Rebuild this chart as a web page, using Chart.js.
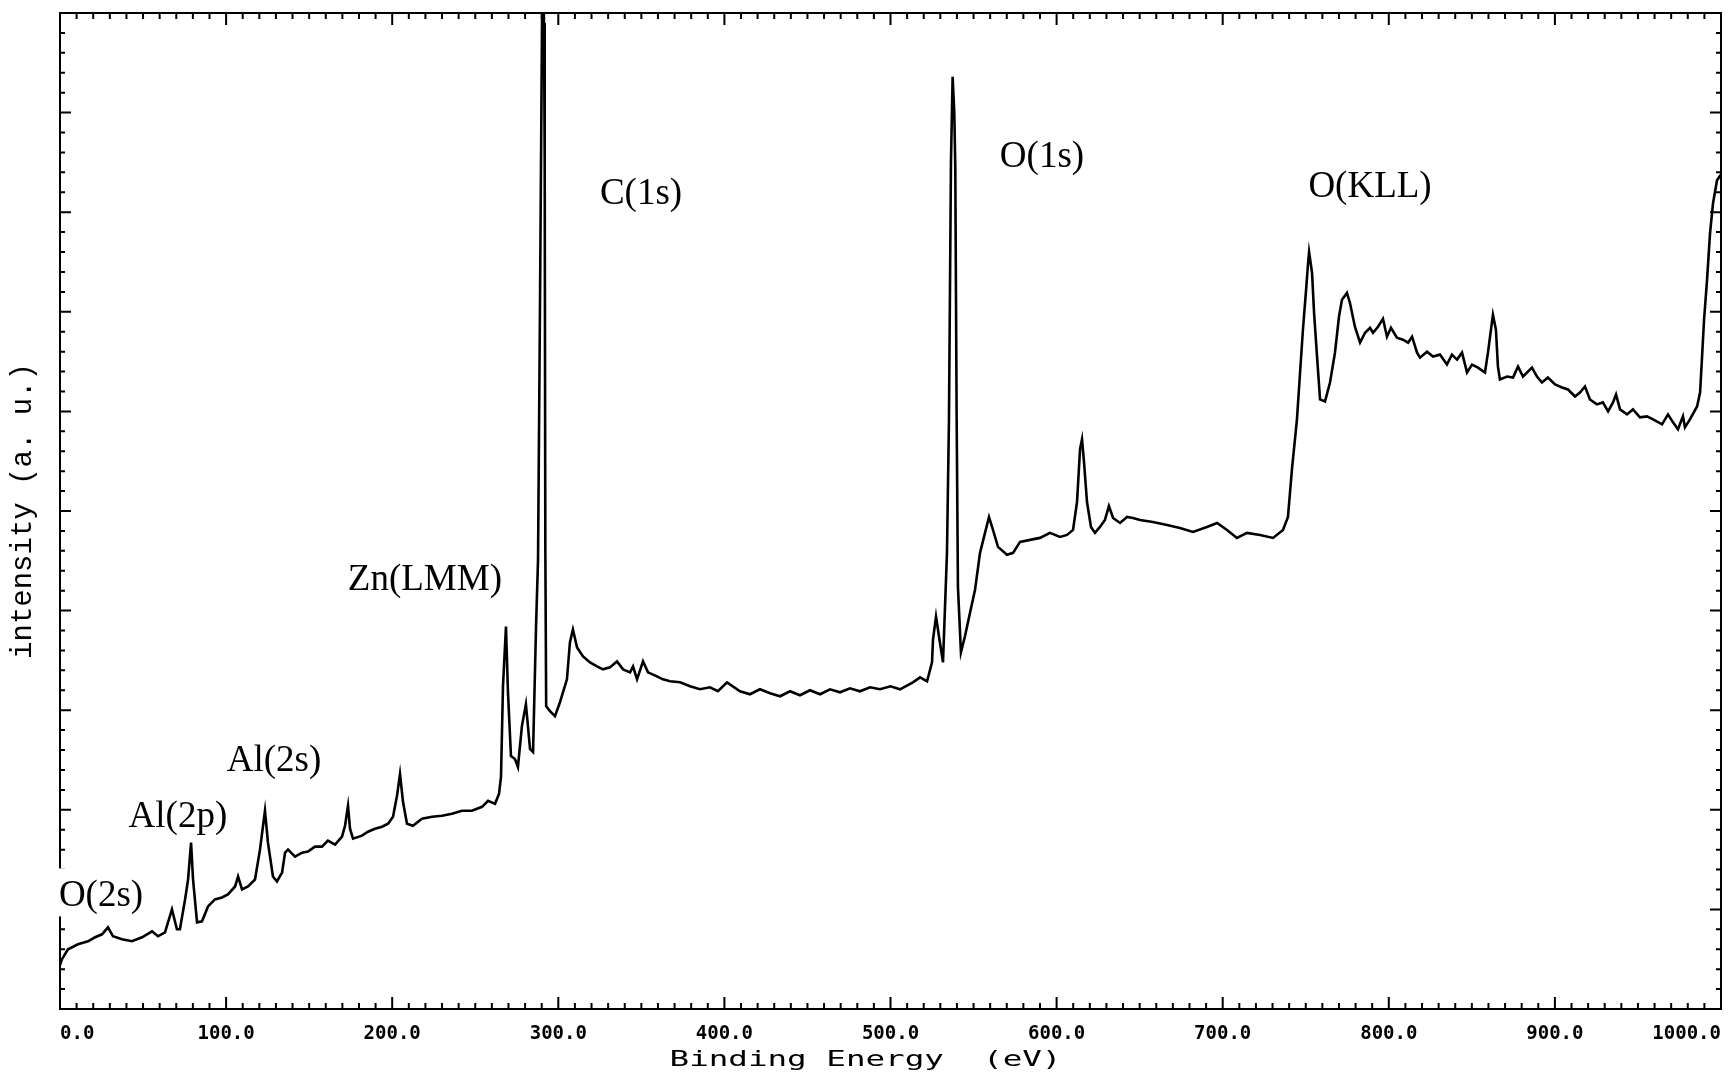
<!DOCTYPE html>
<html>
<head>
<meta charset="utf-8">
<script src="https://cdn.jsdelivr.net/npm/chart.js@4.4.1/dist/chart.umd.min.js"></script>
<style>
  html, body { margin: 0; padding: 0; background: #fff; }
  #wrap { width: 1733px; height: 1074px; }
</style>
</head>
<body>
<div id="wrap"><canvas id="xps"></canvas></div>
<script>
// XPS survey spectrum: binding energy (eV) and intensity (a. u.)
const energy = [
  0, 1.2, 4.8, 10.8, 16.9, 21.1, 25.3, 28.9, 31.9, 37.3, 43.3, 49.4, 55.4, 59.0, 63.2, 67.4, 70.4, 72.2,
  75.3, 77.1, 78.9, 80.1, 82.5, 85.5, 89.1, 93.3, 97.5, 101.1, 105.4, 107.2, 109.6, 113.2, 117.4, 120.4,
  123.4, 125.2, 128.2, 130.6, 133.7, 135.5, 137.3, 141.5, 145.7, 149.3, 153.5, 157.7, 161.3, 165.6, 169.8,
  171.6, 173.4, 174.6, 176.4, 181.8, 185.4, 189.6, 193.9, 197.5, 200.5, 202.9, 204.7, 206.5, 208.9, 212.5,
  217.9, 224.0, 230.0, 236.0, 242.0, 248.0, 254.1, 257.7, 261.9, 264.3, 265.5, 266.7, 268.5, 269.7, 271.5,
  273.9, 275.7, 278.1, 280.5, 283.0, 284.8, 286.6, 287.8, 289.0, 290.2, 290.8, 291.4, 291.8, 292.2, 292.7,
  295.0, 298.0, 301.0, 305.2, 307.0, 308.8, 311.3, 314.9, 319.1, 323.3, 326.9, 331.1, 335.3, 339.0, 343.2,
  345.0, 347.4, 351.0, 354.0, 359.4, 363.0, 367.3, 373.3, 379.3, 385.3, 391.3, 396.1, 401.6, 409.4, 415.4,
  421.4, 427.5, 433.5, 439.5, 445.5, 451.5, 457.6, 463.6, 469.6, 475.6, 481.6, 487.7, 493.7, 500.0, 505.7,
  513.5, 517.8, 522.0, 525.0, 525.6, 527.4, 529.2, 531.6, 534.0, 535.2, 536.4, 537.4, 538.4, 539.0, 539.8,
  540.6, 542.4, 544.8, 547.9, 550.9, 553.9, 556.9, 559.3, 561.7, 564.7, 570.1, 573.8, 578.0, 584.0, 590.0,
  596.0, 602.0, 606.3, 609.9, 612.3, 614.1, 615.3, 616.5, 618.3, 620.7, 623.1, 626.1, 629.1, 631.5, 634.0,
  638.2, 642.4, 646.0, 650.2, 658.0, 666.5, 674.3, 682.1, 690.5, 696.6, 702.6, 708.6, 714.6, 722.5, 730.3,
  736.3, 739.3, 741.7, 744.7, 745.9, 748.3, 750.2, 751.4, 752.0, 753.8, 755.0, 756.8, 758.6, 761.6, 764.6,
  767.6, 770.0, 771.8, 774.8, 776.6, 779.6, 782.7, 785.7, 788.7, 790.5, 793.5, 796.5, 798.9, 801.3, 804.9,
  808.5, 811.6, 814.0, 817.0, 818.8, 823.0, 826.6, 830.8, 835.0, 838.0, 841.1, 844.1, 847.1, 850.1, 853.7,
  857.9, 859.7, 861.5, 862.7, 864.5, 865.7, 866.9, 871.2, 874.8, 877.8, 880.8, 886.2, 889.2, 892.2, 895.8,
  900.1, 904.3, 907.9, 912.1, 915.1, 918.1, 921.1, 925.3, 928.9, 932.0, 935.0, 936.8, 939.2, 943.4, 947.0,
  951.2, 955.4, 959.1, 964.5, 968.1, 971.1, 974.1, 977.1, 978.3, 981.3, 985.6, 987.4, 988.6, 989.8, 991.6,
  993.4, 995.2, 997.6, 1000
];

const intensity = [
  0.44, 0.50, 0.60, 0.65, 0.68, 0.72, 0.75, 0.82, 0.73, 0.70, 0.68, 0.72, 0.78, 0.73, 0.77, 1.00, 0.80, 0.80,
  1.10, 1.30, 1.67, 1.30, 0.87, 0.88, 1.03, 1.10, 1.12, 1.15, 1.23, 1.33, 1.20, 1.23, 1.30, 1.60,
  1.99, 1.67, 1.33, 1.28, 1.37, 1.57, 1.60, 1.53, 1.57, 1.58, 1.63, 1.63, 1.69, 1.65, 1.73,
  1.84, 2.04, 1.81, 1.71, 1.74, 1.78, 1.81, 1.83, 1.86, 1.93, 2.14, 2.36, 2.08, 1.86, 1.84,
  1.91, 1.93, 1.94, 1.96, 1.99, 1.99, 2.03, 2.09, 2.06, 2.16, 2.33, 3.24, 3.84, 3.18, 2.54,
  2.51, 2.43, 2.84, 3.06, 2.61, 2.58, 3.84, 4.51, 7.12, 9.90, 10.40, 9.90, 8.56, 4.60, 3.04,
  2.99, 2.94, 3.08, 3.31, 3.68, 3.81, 3.63, 3.54, 3.48, 3.44, 3.41, 3.43, 3.49, 3.41, 3.38,
  3.44, 3.31, 3.49, 3.38, 3.34, 3.31, 3.29, 3.28, 3.24, 3.21, 3.23, 3.19, 3.28, 3.19, 3.16,
  3.21, 3.17, 3.14, 3.19, 3.15, 3.20, 3.16, 3.21, 3.18, 3.22, 3.19, 3.23, 3.21, 3.24, 3.21,
  3.28, 3.33, 3.29, 3.48, 3.71, 3.94, 3.74, 3.48, 4.58, 5.92, 8.50, 9.36, 9.00, 8.46, 6.00,
  4.24, 3.58, 3.74, 3.98, 4.21, 4.58, 4.78, 4.94, 4.81, 4.64, 4.56, 4.58, 4.69, 4.71, 4.73,
  4.78, 4.74, 4.76, 4.81, 5.09, 5.62, 5.72, 5.49, 5.09, 4.84, 4.78, 4.84, 4.91, 5.05, 4.93,
  4.88, 4.94, 4.93, 4.91, 4.89, 4.86, 4.83, 4.79, 4.84, 4.88, 4.81, 4.73, 4.78, 4.76, 4.73,
  4.81, 4.94, 5.42, 5.92, 6.22, 6.82, 7.22, 7.49, 7.60, 7.39, 6.99, 6.55, 6.12, 6.10, 6.29,
  6.59, 6.95, 7.12, 7.19, 7.09, 6.85, 6.69, 6.79, 6.84, 6.79, 6.85, 6.93, 6.75, 6.84, 6.74,
  6.72, 6.69, 6.75, 6.59, 6.54, 6.60, 6.55, 6.57, 6.47, 6.57, 6.52, 6.59, 6.39, 6.47, 6.44,
  6.39, 6.59, 6.82, 6.97, 6.82, 6.45, 6.32, 6.35, 6.34, 6.45, 6.35, 6.44, 6.35, 6.29, 6.34,
  6.27, 6.24, 6.22, 6.15, 6.19, 6.25, 6.12, 6.07, 6.09, 6.00, 6.09, 6.17, 6.02, 5.97, 6.02,
  5.94, 5.95, 5.92, 5.87, 5.97, 5.89, 5.82, 5.95, 5.84, 5.92, 6.05, 6.19, 6.55, 6.92, 7.32,
  7.79, 8.09, 8.32, 8.38
];

const energyTicks = [0, 100, 200, 300, 400, 500, 600, 700, 800, 900, 1000];

// Peak assignments: label text, energy under the label centre, baseline level
const peakLabels = [
  { text: 'O(2s)',   energy: 24.7,  level: 1.03 },
  { text: 'Al(2p)',  energy: 71.0,  level: 1.83 },
  { text: 'Al(2s)',  energy: 128.8, level: 2.39 },
  { text: 'Zn(LMM)', energy: 219.7, level: 4.21 },
  { text: 'C(1s)',   energy: 349.8, level: 8.08 },
  { text: 'O(1s)',   energy: 591.2, level: 8.45 },
  { text: 'O(KLL)',  energy: 788.7, level: 8.15 }
];

// Boxed frame with inward ticks on all four sides, the x title and the peak labels
const frameAndLabels = {
  id: 'frameAndLabels',
  afterDatasetsDraw(chart) {
    const { ctx, chartArea: a, scales: { x, y } } = chart;
    ctx.save();
    ctx.strokeStyle = '#000';
    ctx.lineWidth = 2;
    ctx.lineCap = 'butt';
    ctx.strokeRect(a.left, a.top, a.right - a.left, a.bottom - a.top);

    ctx.beginPath();
    for (let v = 0; v <= 1000; v += 10) {
      const px = x.getPixelForValue(v);
      const len = v % 100 === 0 ? 12 : 6;
      ctx.moveTo(px, a.bottom); ctx.lineTo(px, a.bottom - len);
      ctx.moveTo(px, a.top);    ctx.lineTo(px, a.top + len);
    }
    for (let i = 0; i <= 50; i++) {
      const py = y.getPixelForValue(i / 5);
      const len = i % 5 === 0 ? 11 : 5;
      ctx.moveTo(a.left, py);  ctx.lineTo(a.left + len, py);
      ctx.moveTo(a.right, py); ctx.lineTo(a.right - len, py);
    }
    ctx.stroke();

    // x axis title in a wide dot-matrix style
    ctx.fillStyle = '#000';
    ctx.font = '21px "DejaVu Sans Mono"';
    ctx.textAlign = 'center';
    ctx.textBaseline = 'middle';
    ctx.save();
    ctx.translate((a.left + a.right) / 2 - 25, chart.height - 13);
    ctx.scale(1.55, 1);
    ctx.fillText('Binding Energy  (eV)', 0, 0);
    ctx.restore();

    // peak labels
    ctx.font = '37px "Liberation Serif"';
    ctx.textAlign = 'center';
    ctx.textBaseline = 'alphabetic';
    peakLabels.forEach(p => {
      const px = x.getPixelForValue(p.energy);
      const py = y.getPixelForValue(p.level);
      const w = ctx.measureText(p.text).width;
      if (px - w / 2 < a.left + 3) {
        ctx.fillStyle = '#fff';
        ctx.fillRect(px - w / 2 - 3, py - 38, w + 6, 48);
      }
      ctx.fillStyle = '#000';
      ctx.fillText(p.text, px, py);
    });
    ctx.restore();
  }
};

new Chart(document.getElementById('xps'), {
  type: 'line',
  data: {
    datasets: [{
      data: energy.map((e, i) => ({ x: e, y: intensity[i] })),
      borderColor: '#000',
      borderWidth: 2.6,
      pointRadius: 0,
      tension: 0,
      fill: false
    }]
  },
  options: {
    responsive: true,
    maintainAspectRatio: false,
    animation: false,
    devicePixelRatio: 1,
    layout: { padding: { top: 13, right: 12, left: 0, bottom: 0 } },
    plugins: { legend: { display: false }, tooltip: { enabled: false } },
    scales: {
      x: {
        type: 'linear',
        min: 0,
        max: 1000,
        afterBuildTicks: s => { s.ticks = energyTicks.map(v => ({ value: v })); },
        afterFit: s => { s.height = 65; s.paddingLeft = 0; s.paddingRight = 0; },
        ticks: {
          callback: v => Number(v).toFixed(1),
          align: 'inner',
          autoSkip: false,
          maxRotation: 0,
          padding: 14,
          color: '#000',
          font: { family: 'DejaVu Sans Mono', size: 19, weight: 'bold' }
        },
        grid: { display: false, drawTicks: false },
        border: { display: false }
      },
      y: {
        min: 0,
        max: 10,
        afterFit: s => { s.width = 60; },
        ticks: { display: false },
        grid: { display: false, drawTicks: false },
        border: { display: false },
        title: {
          display: true,
          text: 'intensity (a. u.)',
          color: '#000',
          font: { family: 'Liberation Mono', size: 29 },
          padding: { top: 6, bottom: 0 }
        }
      }
    }
  },
  plugins: [frameAndLabels]
});
</script>
</body>
</html>
